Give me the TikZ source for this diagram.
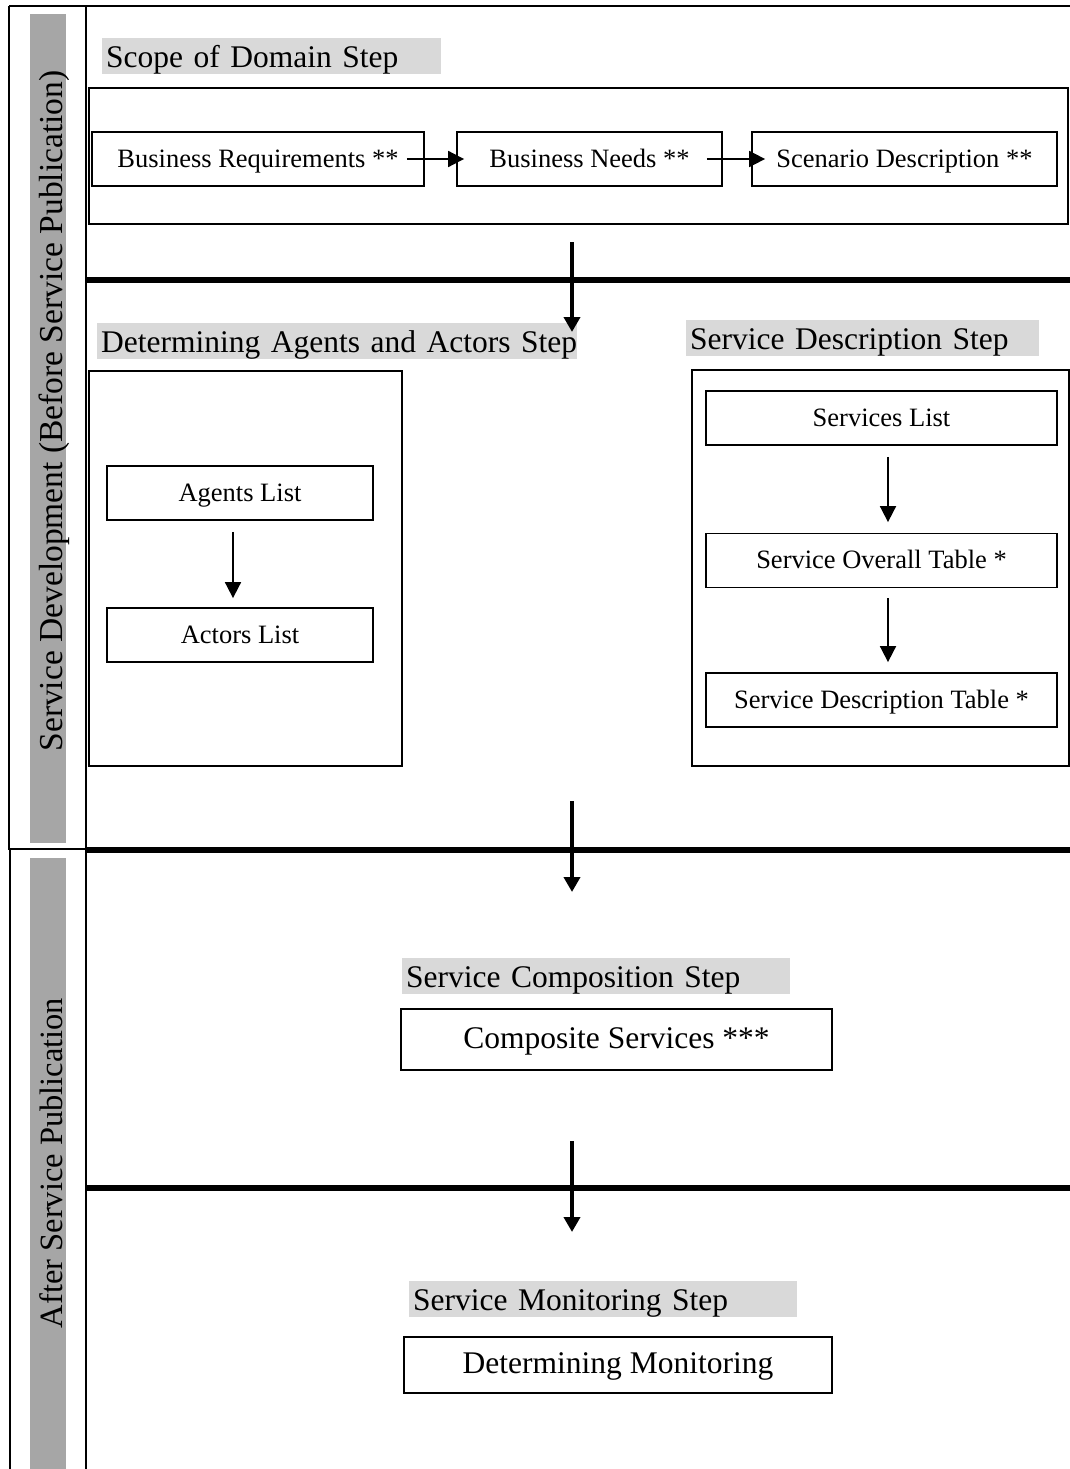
\documentclass[tikz,border=0pt]{standalone}
\usepackage{fontspec}
\setmainfont{Liberation Serif}
\usetikzlibrary{arrows.meta}
\definecolor{lblgray}{HTML}{D9D9D9}
\definecolor{bargray}{HTML}{A6A6A6}

\begin{document}
\begin{tikzpicture}[x=1pt,y=-1pt,
  box/.style={draw, line width=1.8pt, inner sep=0pt, minimum height=54pt,
    text height=19pt, text depth=3pt,
    font=\fontsize{26.5}{30}\selectfont},
  bigbox/.style={draw, line width=1.8pt, inner sep=0pt},
  bigtext/.style={text height=22pt, text depth=5pt,
    font=\fontsize{31.5}{36}\selectfont},
  lbl/.style={fill=lblgray, anchor=north west, inner xsep=4pt, inner ysep=0pt,
    text height=29pt, text depth=7pt, align=left,
    font=\fontsize{31.5}{36}\selectfont},
  rot/.style={rotate=90, anchor=base, inner sep=0pt,
    font=\fontsize{32.5}{36}\selectfont},
  smallarr/.style={line width=1.8pt, -{Triangle[length=16pt,width=16pt]}},
  bigarr/.style={line width=4.5pt, -{Triangle[length=15pt,width=16pt]}},
  sepline/.style={line width=5.5pt},
  frame/.style={line width=1.8pt}
]
\useasboundingbox (0,0) rectangle (1070,1469);

% ---- side bars with phase titles ----
\fill[bargray] (30,14) rectangle (66,843);
\fill[bargray] (30,858) rectangle (66,1469);
\node[rot, font=\fontsize{33.5}{36}\selectfont] (dev) at (62,411)
  {Service Development (Before Service Publication)};
\node[rot] (pub) at (62,1163) {After Service Publication};

% ---- frame lines ----
\draw[frame] (9,6) -- (1070,6);
\draw[frame] (9,6) -- (9,849) -- (86,849);
\draw[line width=2.4pt] (10,849) -- (10,1469);
\draw[frame] (86,6) -- (86,1469);

% ---- phase separators ----
\draw[sepline] (86,280) -- (1070,280);
\draw[sepline] (86,850) -- (1070,850);
\draw[sepline] (86,1188) -- (1070,1188);

% ---- Scope of Domain Step ----
\node[lbl, text width=331pt] (scopelbl) at (102,38) {\mbox{Scope of Domain Step}};
\node[bigbox, minimum width=979pt, minimum height=136pt] (scopebox) at (578.5,156) {};
\node[box, minimum width=332pt] (breq) at (258,159) {Business Requirements **};
\node[box, minimum width=265pt] (bneed) at (589.5,159) {Business Needs **};
\node[box, minimum width=305pt] (scen) at (904.5,159) {Scenario Description **};
\draw[smallarr] ([xshift=-18pt]breq.east) -- ([xshift=8pt]bneed.west);
\draw[smallarr] ([xshift=-16pt]bneed.east) -- ([xshift=14pt]scen.west);

% ---- Determining Agents and Actors Step ----
\node[lbl, text width=472pt] (aglbl) at (97,323) {\mbox{Determining Agents and Actors Step}};
\node[bigbox, minimum width=313pt, minimum height=395pt] (agbox) at (245.5,568.5) {};
\node[box, minimum width=266pt] (agents) at (240,493) {Agents List};
\node[box, minimum width=266pt] (actors) at (240,635) {Actors List};
\draw[smallarr] ([xshift=-7pt,yshift=-11pt]agents.south) -- ([xshift=-7pt,yshift=9pt]actors.north);

% ---- Service Description Step ----
\node[lbl, text width=345pt] (sdlbl) at (686,320) {\mbox{Service Description Step}};
\node[bigbox, minimum width=377pt, minimum height=396pt] (sdbox) at (880.5,568) {};
\node[box, minimum width=351pt] (svlist) at (881.5,418) {Services List};
\node[box, minimum width=351pt] (svover) at (881.5,560.5) {Service Overall Table *};
\node[box, minimum width=351pt] (svdesc) at (881.5,700) {Service Description Table *};
\draw[smallarr] ([xshift=6.5pt,yshift=-11pt]svlist.south) -- ([xshift=6.5pt,yshift=10.5pt]svover.north);
\draw[smallarr] ([xshift=6.5pt,yshift=-10pt]svover.south) -- ([xshift=6.5pt,yshift=10pt]svdesc.north);

% ---- Service Composition Step ----
\node[lbl, text width=380pt] (complbl) at (402,958) {\mbox{Service Composition Step}};
\node[bigbox, bigtext, minimum width=431pt, minimum height=61pt] (comp) at (616.5,1039.5)
  {Composite Services ***};

% ---- Service Monitoring Step ----
\node[lbl, text width=380pt] (monlbl) at (409,1281) {\mbox{Service Monitoring Step}};
\node[bigbox, bigtext, minimum width=428pt, minimum height=56pt] (mon) at (618,1365)
  {Determining Monitoring};

% ---- flow between phases ----
\coordinate (f1a) at (572,242);
\coordinate (f1b) at (572,332);
\coordinate (f2a) at (572,801);
\coordinate (f2b) at (572,892);
\coordinate (f3a) at (572,1141);
\coordinate (f3b) at (572,1232);
\draw[bigarr] (f1a) -- (f1b);
\draw[bigarr] (f2a) -- (f2b);
\draw[bigarr] (f3a) -- (f3b);
\end{tikzpicture}
\end{document}
